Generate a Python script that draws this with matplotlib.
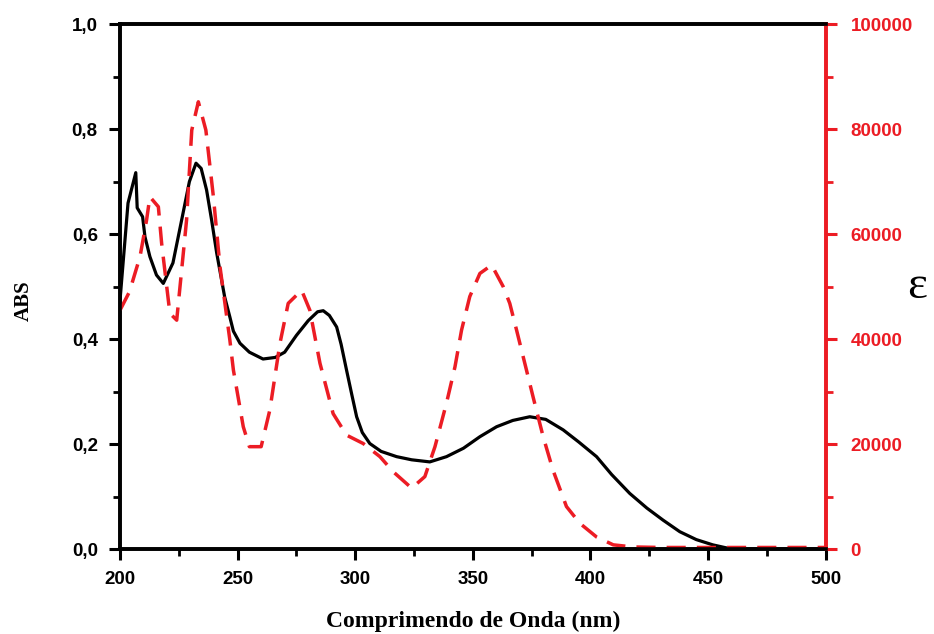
import matplotlib.pyplot as plt
from matplotlib.ticker import MultipleLocator, FuncFormatter

# absorbancia (linha preta)
abs_nm = [200, 203.4, 206.7, 207.3, 209.6, 210.6, 212.7, 215.5, 218.4, 222.5, 226.8, 229.5,
          232.3, 234.5, 236.8, 239, 241.1, 244.5, 246.7, 248.2, 251, 255, 260.8, 266,
          270, 275, 280, 284, 286.4, 289, 292.1, 294, 296.3, 298.5, 300.6, 303, 306.2,
          311, 317.6, 324, 331.7, 338.8, 346, 353, 360.1, 367, 374.2, 381, 388.4, 395,
          402.6, 409, 416.7, 424, 430.9, 438, 445, 452, 458, 462, 470, 480, 500]
abs_val = [0.474, 0.659, 0.717, 0.65, 0.633, 0.595, 0.557, 0.522, 0.506, 0.545, 0.64, 0.70,
           0.735, 0.725, 0.684, 0.625, 0.564, 0.48, 0.442, 0.415, 0.392, 0.375, 0.362, 0.365,
           0.375, 0.407, 0.435, 0.452, 0.454, 0.445, 0.423, 0.39, 0.341, 0.295, 0.252, 0.222, 0.201,
           0.186, 0.176, 0.17, 0.166, 0.176, 0.192, 0.214, 0.233, 0.245, 0.252, 0.247, 0.227, 0.204,
           0.176, 0.142, 0.106, 0.078, 0.055, 0.033, 0.018, 0.008, 0.002, 0.0, 0.0, 0.0, 0.0]

# coeficiente de absortividade molar (linha vermelha)
eps_nm = [200, 204, 208.5, 211.3, 212.7, 216.3, 217.7, 221.2, 224.1, 228.3, 230.5, 233.3,
          236.5, 239.7, 242.5, 246.7, 248.2, 252.4, 255, 260, 263.7, 268, 271.5, 277.2,
          280.7, 285, 290.6, 296.3, 303.4, 310.5, 316.2, 324, 329.6, 333.9, 338.8, 342.4,
          345.2, 348.7, 353, 358, 362.9, 365.7, 368.6, 372.8, 375.6, 379.9, 384.1, 389.8,
          395.5, 402.6, 409.7, 418, 430, 450, 470, 500]
eps_val = [45500, 49000, 55700, 62700, 67100, 65200, 58200, 44900, 43600, 62700, 79800, 85200,
           79800, 67100, 53800, 39800, 34100, 23300, 19500, 19500, 26500, 39200, 46800, 49300,
           45500, 35400, 25800, 21700, 20100, 17600, 14700, 11600, 13800, 19500, 27800, 34700,
           41700, 48100, 52500, 54100, 50000, 46800, 41700, 34100, 29000, 21400, 15000, 8100,
           4900, 2300, 800, 400, 300, 300, 300, 300]

RED = '#ec1c24'

fig, ax = plt.subplots(figsize=(9.34, 6.34), dpi=100)
fig.subplots_adjust(left=0.1285, right=0.884, top=0.962, bottom=0.134)

ax.plot(abs_nm, abs_val, color='black', lw=2.3, zorder=3)
ax.set_xlim(200, 500)
ax.set_ylim(0, 1.0)

ax2 = ax.twinx()
ax2.plot(eps_nm, eps_val, color=RED, lw=2.5, dashes=(5.5, 3.2), zorder=2)
ax2.set_ylim(0, 100000)

comma = FuncFormatter(lambda v, p: ('%.1f' % v).replace('.', ','))
ax.yaxis.set_major_locator(MultipleLocator(0.2))
ax.yaxis.set_minor_locator(MultipleLocator(0.1))
ax.yaxis.set_major_formatter(comma)
ax.xaxis.set_major_locator(MultipleLocator(50))
ax.xaxis.set_minor_locator(MultipleLocator(25))
ax2.yaxis.set_major_locator(MultipleLocator(20000))
ax2.yaxis.set_minor_locator(MultipleLocator(10000))

tickfont = dict(family='Liberation Sans', weight='bold', size=13.5)
for a in (ax, ax2):
    for s in a.spines.values():
        s.set_linewidth(2.6)
    a.spines['right'].set_color(RED)
for lab in ax.get_xticklabels() + ax.get_yticklabels():
    lab.set_fontproperties(tickfont)
for lab in ax2.get_yticklabels():
    lab.set_fontproperties(tickfont)
    lab.set_color(RED)

ax.tick_params(which='major', direction='out', length=8, width=2.2, pad=8)
ax.tick_params(which='minor', direction='out', length=5, width=2.0)
ax.tick_params(axis='y', which='both', right=False)
ax2.tick_params(which='major', direction='out', length=8, width=2.2, color=RED, pad=10)
ax2.tick_params(which='minor', direction='out', length=5, width=2.0, color=RED)

ax.set_xlabel('Comprimendo de Onda (nm)', family='Liberation Serif', weight='bold', size=17, va='center')
ax.xaxis.set_label_coords(0.5, -0.137)
ax.set_ylabel('ABS', family='Liberation Serif', weight='bold', size=15)
ax.yaxis.set_label_coords(-0.122, 0.474)
ax2.set_ylabel('ε', family='Liberation Serif', size=34, rotation=0, va='center', ha='center')
ax2.yaxis.set_label_coords(1.13, 0.50)

fig.savefig('out.png', dpi=100)
